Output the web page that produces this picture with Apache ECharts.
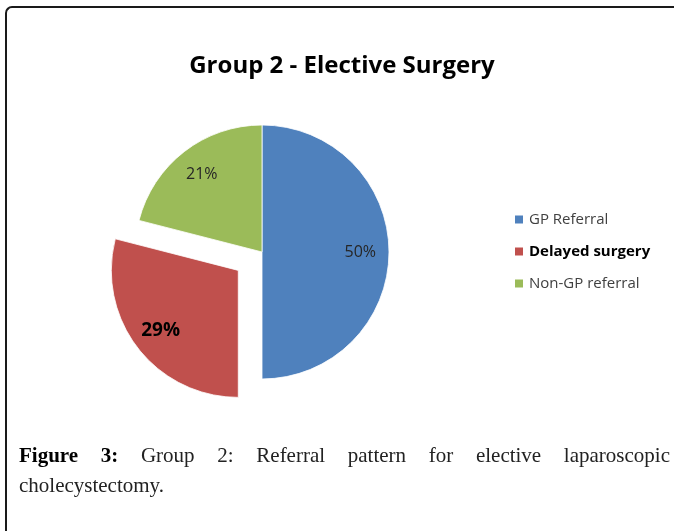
<!DOCTYPE html>
<html>
<head>
<meta charset="utf-8">
<script src="https://cdn.jsdelivr.net/npm/echarts@6/dist/echarts.min.js"></script>
<style>
  html, body { margin: 0; padding: 0; background: #fff; width: 674px; height: 531px; overflow: hidden; }
  #frame { position: absolute; left: 5px; top: 6px; width: 700px; height: 600px;
           border-left: 2px solid #1a1a1a; border-top: 2px solid #1a1a1a; border-top-left-radius: 7px; }
  #chart { position: absolute; left: 0; top: 0; width: 674px; height: 531px; }
  #caption { position: absolute; left: 19px; top: 440px; width: 651px;
             font-family: "Liberation Serif", "DejaVu Serif", serif; font-size: 21px; line-height: 30px;
             color: #222; text-align: justify; }
  #caption b { font-weight: bold; color: #000; }
</style>
</head>
<body>
<div id="frame"></div>
<div id="chart"></div>
<div id="caption"><b>Figure 3:</b> Group 2: Referral pattern for elective laparoscopic cholecystectomy.</div>
<script>
const titleText = 'Group 2 - Elective Surgery';
const categories = ['GP Referral', 'Delayed surgery', 'Non-GP referral'];
const values = [50, 29, 21];
const colors = ['#4F81BD', '#C0504D', '#9BBB59'];
const explodedIndex = 1;

const uiFont = '"Open Sans", Lato, sans-serif';
const pieCenter = [262, 252];
const pieRadius = 127;

const baseData = categories.map((name, i) => ({
  name: name,
  value: values[i],
  selected: i === explodedIndex,
  itemStyle: { color: colors[i] }
}));

const labelData = categories.map((name, i) => ({
  name: name,
  value: values[i],
  selected: i === explodedIndex,
  label: i === explodedIndex
    ? { fontSize: 19, fontWeight: 'bold', color: '#000' }
    : { fontSize: 16, color: '#262626' }
}));

const chart = echarts.init(document.getElementById('chart'), null, { renderer: 'canvas' });
chart.setOption({
  animation: false,
  backgroundColor: 'transparent',
  color: colors,
  title: {
    text: titleText,
    left: 342,
    textAlign: 'center',
    top: 54,
    padding: 0,
    textStyle: { fontFamily: uiFont, fontSize: 24, fontWeight: 'bold', color: '#000' }
  },
  legend: {
    orient: 'vertical',
    left: 513,
    top: 211,
    padding: 0,
    itemWidth: 10,
    itemHeight: 10,
    itemGap: 15,
    icon: 'rect',
    selectedMode: false,
    textStyle: { fontFamily: uiFont, fontSize: 15, color: '#404040', lineHeight: 17 },
    data: categories.map((name, i) => ({
      name: name,
      textStyle: i === explodedIndex ? { fontWeight: 'bold', color: '#000' } : {}
    }))
  },
  series: [
    {
      type: 'pie',
      name: 'slices',
      center: pieCenter,
      radius: [0, pieRadius],
      startAngle: 90,
      clockwise: true,
      selectedMode: 'single',
      selectedOffset: 30,
      silent: true,
      label: { show: false },
      labelLine: { show: false },
      itemStyle: { borderColor: '#ffffff', borderWidth: 0.8 },
      emphasis: { disabled: true },
      data: baseData
    },
    {
      type: 'pie',
      name: 'labels',
      center: pieCenter,
      radius: [pieRadius * 0.5, pieRadius],
      startAngle: 90,
      clockwise: true,
      selectedMode: 'single',
      selectedOffset: 30,
      silent: true,
      itemStyle: { color: 'rgba(0,0,0,0)' },
      emphasis: { disabled: true },
      label: {
        show: true,
        position: 'inside',
        fontFamily: uiFont,
        formatter: '{d}%'
      },
      labelLine: { show: false },
      data: labelData
    }
  ]
});
</script>
</body>
</html>
